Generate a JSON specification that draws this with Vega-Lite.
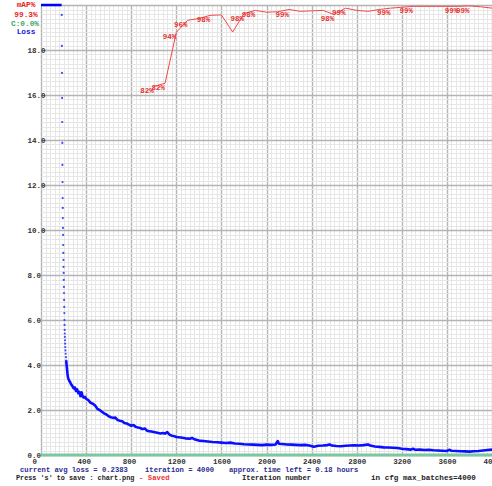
{
  "$schema": "https://vega.github.io/schema/vega-lite/v6.json",
  "autosize": {"type": "none"},
  "padding": {"left": 41, "top": 5, "right": 0, "bottom": 31},
  "width": 451,
  "height": 450,
  "background": "white",
  "config": {"view": {"stroke": null}},
  "datasets": {
    "lossTop": [{"iteration": 0, "loss": 20}, {"iteration": 183, "loss": 20}],
    "lossDots": [
      {"iteration": 184, "loss": 19.56}, {"iteration": 185, "loss": 18.18}, {"iteration": 186, "loss": 16.98},
      {"iteration": 187, "loss": 15.87}, {"iteration": 188, "loss": 14.8}, {"iteration": 189, "loss": 13.87},
      {"iteration": 190, "loss": 12.89}, {"iteration": 191, "loss": 12.13}, {"iteration": 192, "loss": 11.42},
      {"iteration": 193, "loss": 10.98}, {"iteration": 194, "loss": 10.53}, {"iteration": 195, "loss": 10.09},
      {"iteration": 196, "loss": 9.78}, {"iteration": 197, "loss": 9.33}, {"iteration": 198, "loss": 8.98},
      {"iteration": 199, "loss": 8.67}, {"iteration": 200, "loss": 8.36}, {"iteration": 201, "loss": 8.09},
      {"iteration": 202, "loss": 7.78}, {"iteration": 203, "loss": 7.47}, {"iteration": 204, "loss": 7.2},
      {"iteration": 205, "loss": 6.89}, {"iteration": 206, "loss": 6.58}, {"iteration": 207, "loss": 6.31},
      {"iteration": 208, "loss": 6.0}, {"iteration": 209, "loss": 5.78}, {"iteration": 210, "loss": 5.56},
      {"iteration": 211, "loss": 5.4}, {"iteration": 212, "loss": 5.25}, {"iteration": 213, "loss": 5.1},
      {"iteration": 214, "loss": 4.95}, {"iteration": 215, "loss": 4.8}, {"iteration": 217, "loss": 4.65},
      {"iteration": 219, "loss": 4.5}, {"iteration": 221, "loss": 4.35}, {"iteration": 223, "loss": 4.2}
    ],
    "loss": [
      {"iteration": 223, "loss": 4.2}, {"iteration": 226, "loss": 4.05},
      {"iteration": 230, "loss": 3.85}, {"iteration": 235, "loss": 3.6}, {"iteration": 240, "loss": 3.42},
      {"iteration": 250, "loss": 3.3}, {"iteration": 260, "loss": 3.22}, {"iteration": 270, "loss": 3.12},
      {"iteration": 280, "loss": 3.05}, {"iteration": 290, "loss": 2.96}, {"iteration": 300, "loss": 3.0},
      {"iteration": 310, "loss": 2.85}, {"iteration": 320, "loss": 2.92}, {"iteration": 330, "loss": 2.75},
      {"iteration": 340, "loss": 2.8}, {"iteration": 350, "loss": 2.62}, {"iteration": 360, "loss": 2.78},
      {"iteration": 370, "loss": 2.6}, {"iteration": 380, "loss": 2.55}, {"iteration": 390, "loss": 2.58},
      {"iteration": 400, "loss": 2.5}, {"iteration": 420, "loss": 2.44}, {"iteration": 440, "loss": 2.32},
      {"iteration": 460, "loss": 2.28}, {"iteration": 480, "loss": 2.2}, {"iteration": 500, "loss": 2.05},
      {"iteration": 520, "loss": 2.0}, {"iteration": 540, "loss": 1.92}, {"iteration": 560, "loss": 1.85},
      {"iteration": 580, "loss": 1.8}, {"iteration": 600, "loss": 1.72}, {"iteration": 620, "loss": 1.68},
      {"iteration": 640, "loss": 1.65}, {"iteration": 660, "loss": 1.66}, {"iteration": 680, "loss": 1.55},
      {"iteration": 700, "loss": 1.52}, {"iteration": 720, "loss": 1.5}, {"iteration": 740, "loss": 1.42},
      {"iteration": 760, "loss": 1.4}, {"iteration": 780, "loss": 1.35}, {"iteration": 800, "loss": 1.3},
      {"iteration": 820, "loss": 1.33}, {"iteration": 840, "loss": 1.25}, {"iteration": 860, "loss": 1.22},
      {"iteration": 880, "loss": 1.2}, {"iteration": 900, "loss": 1.15}, {"iteration": 920, "loss": 1.18},
      {"iteration": 940, "loss": 1.08}, {"iteration": 960, "loss": 1.06}, {"iteration": 980, "loss": 1.04},
      {"iteration": 1000, "loss": 1.02}, {"iteration": 1020, "loss": 1.0}, {"iteration": 1040, "loss": 0.98},
      {"iteration": 1060, "loss": 0.96}, {"iteration": 1080, "loss": 0.98}, {"iteration": 1100, "loss": 0.95},
      {"iteration": 1120, "loss": 1.02}, {"iteration": 1140, "loss": 0.9}, {"iteration": 1160, "loss": 0.86},
      {"iteration": 1180, "loss": 0.84}, {"iteration": 1200, "loss": 0.8}, {"iteration": 1240, "loss": 0.78},
      {"iteration": 1280, "loss": 0.74}, {"iteration": 1320, "loss": 0.72}, {"iteration": 1340, "loss": 0.76},
      {"iteration": 1360, "loss": 0.7}, {"iteration": 1400, "loss": 0.64}, {"iteration": 1440, "loss": 0.62},
      {"iteration": 1480, "loss": 0.6}, {"iteration": 1520, "loss": 0.58}, {"iteration": 1560, "loss": 0.57},
      {"iteration": 1600, "loss": 0.55}, {"iteration": 1640, "loss": 0.53}, {"iteration": 1680, "loss": 0.55},
      {"iteration": 1720, "loss": 0.51}, {"iteration": 1760, "loss": 0.5}, {"iteration": 1800, "loss": 0.48},
      {"iteration": 1840, "loss": 0.47}, {"iteration": 1880, "loss": 0.46}, {"iteration": 1920, "loss": 0.45},
      {"iteration": 1960, "loss": 0.44}, {"iteration": 2000, "loss": 0.46}, {"iteration": 2040, "loss": 0.45},
      {"iteration": 2080, "loss": 0.47}, {"iteration": 2100, "loss": 0.62}, {"iteration": 2110, "loss": 0.5},
      {"iteration": 2140, "loss": 0.49}, {"iteration": 2180, "loss": 0.47}, {"iteration": 2220, "loss": 0.46},
      {"iteration": 2260, "loss": 0.45}, {"iteration": 2300, "loss": 0.44}, {"iteration": 2340, "loss": 0.45},
      {"iteration": 2380, "loss": 0.42}, {"iteration": 2420, "loss": 0.37}, {"iteration": 2460, "loss": 0.41},
      {"iteration": 2500, "loss": 0.42}, {"iteration": 2540, "loss": 0.44}, {"iteration": 2560, "loss": 0.47},
      {"iteration": 2580, "loss": 0.42}, {"iteration": 2620, "loss": 0.4}, {"iteration": 2660, "loss": 0.39},
      {"iteration": 2700, "loss": 0.41}, {"iteration": 2740, "loss": 0.42}, {"iteration": 2780, "loss": 0.43},
      {"iteration": 2820, "loss": 0.42}, {"iteration": 2860, "loss": 0.44}, {"iteration": 2900, "loss": 0.47},
      {"iteration": 2920, "loss": 0.42}, {"iteration": 2960, "loss": 0.38}, {"iteration": 3000, "loss": 0.36},
      {"iteration": 3040, "loss": 0.34}, {"iteration": 3080, "loss": 0.33}, {"iteration": 3120, "loss": 0.32},
      {"iteration": 3160, "loss": 0.31}, {"iteration": 3200, "loss": 0.28}, {"iteration": 3240, "loss": 0.26},
      {"iteration": 3280, "loss": 0.24}, {"iteration": 3300, "loss": 0.28}, {"iteration": 3320, "loss": 0.23},
      {"iteration": 3360, "loss": 0.24}, {"iteration": 3400, "loss": 0.22}, {"iteration": 3440, "loss": 0.23},
      {"iteration": 3480, "loss": 0.21}, {"iteration": 3520, "loss": 0.2}, {"iteration": 3560, "loss": 0.19},
      {"iteration": 3600, "loss": 0.18}, {"iteration": 3620, "loss": 0.23}, {"iteration": 3640, "loss": 0.19},
      {"iteration": 3680, "loss": 0.18}, {"iteration": 3720, "loss": 0.17}, {"iteration": 3760, "loss": 0.16},
      {"iteration": 3800, "loss": 0.15}, {"iteration": 3840, "loss": 0.17}, {"iteration": 3880, "loss": 0.18},
      {"iteration": 3920, "loss": 0.2}, {"iteration": 3960, "loss": 0.22}, {"iteration": 4000, "loss": 0.24}
    ],
    "map": [
      {"iteration": 1000, "mAP": 81.9}, {"iteration": 1100, "mAP": 82.6}, {"iteration": 1200, "mAP": 93.9},
      {"iteration": 1300, "mAP": 96.6}, {"iteration": 1400, "mAP": 97.0}, {"iteration": 1500, "mAP": 97.7},
      {"iteration": 1600, "mAP": 97.8}, {"iteration": 1700, "mAP": 94.0}, {"iteration": 1800, "mAP": 98.1},
      {"iteration": 1900, "mAP": 98.8}, {"iteration": 2000, "mAP": 98.4}, {"iteration": 2100, "mAP": 98.5},
      {"iteration": 2200, "mAP": 99.0}, {"iteration": 2300, "mAP": 98.6}, {"iteration": 2400, "mAP": 98.7},
      {"iteration": 2500, "mAP": 98.8}, {"iteration": 2600, "mAP": 97.9}, {"iteration": 2700, "mAP": 99.3},
      {"iteration": 2800, "mAP": 98.8}, {"iteration": 2900, "mAP": 98.6}, {"iteration": 3000, "mAP": 99.0},
      {"iteration": 3100, "mAP": 99.3}, {"iteration": 3200, "mAP": 99.5}, {"iteration": 3300, "mAP": 99.7},
      {"iteration": 3400, "mAP": 99.7}, {"iteration": 3500, "mAP": 99.7}, {"iteration": 3600, "mAP": 99.7},
      {"iteration": 3700, "mAP": 99.7}, {"iteration": 3800, "mAP": 99.8}, {"iteration": 3900, "mAP": 99.6},
      {"iteration": 4000, "mAP": 99.3}
    ],
    "mapLabels": [
      {"iteration": 1000, "mAP": 81.9, "label": "82%"}, {"iteration": 1100, "mAP": 82.6, "label": "82%"},
      {"iteration": 1200, "mAP": 93.9, "label": "94%"}, {"iteration": 1300, "mAP": 96.6, "label": "96%"},
      {"iteration": 1500, "mAP": 97.7, "label": "98%"}, {"iteration": 1800, "mAP": 98.1, "label": "98%"},
      {"iteration": 1900, "mAP": 98.8, "label": "98%"}, {"iteration": 2200, "mAP": 99.0, "label": "99%"},
      {"iteration": 2600, "mAP": 97.9, "label": "98%"}, {"iteration": 2700, "mAP": 99.3, "label": "99%"},
      {"iteration": 3100, "mAP": 99.3, "label": "99%"}, {"iteration": 3300, "mAP": 99.7, "label": "99%"},
      {"iteration": 3700, "mAP": 99.7, "label": "99%"}, {"iteration": 3800, "mAP": 99.8, "label": "99%"}
    ],
    "acc": [{"iteration": 0, "C": 0}, {"iteration": 4000, "C": 0}]
  },
  "encoding": {
    "x": {
      "field": "iteration", "type": "quantitative",
      "scale": {"domain": [0, 4000], "nice": false, "zero": false},
      "axis": {
        "title": null,
        "values": [0,40,80,120,160,200,240,280,320,360,400,440,480,520,560,600,640,680,720,760,800,840,880,920,960,1000,1040,1080,1120,1160,1200,1240,1280,1320,1360,1400,1440,1480,1520,1560,1600,1640,1680,1720,1760,1800,1840,1880,1920,1960,2000,2040,2080,2120,2160,2200,2240,2280,2320,2360,2400,2440,2480,2520,2560,2600,2640,2680,2720,2760,2800,2840,2880,2920,2960,3000,3040,3080,3120,3160,3200,3240,3280,3320,3360,3400,3440,3480,3520,3560,3600,3640,3680,3720,3760,3800,3840,3880,3920,3960,4000],
        "grid": true,
        "gridColor": {"condition": {"test": "datum.value % 400 === 0", "value": "#b4b4b4"}, "value": "#e6e6e6"},
        "gridWidth": {"condition": {"test": "datum.value % 400 === 0", "value": 1.4}, "value": 1},
        "labelExpr": "datum.value % 400 === 0 ? datum.label : ''",
        "format": "d",
        "ticks": false, "tickSize": 0, "domain": false,
        "labelAlign": "left", "labelOffset": -9, "labelPadding": 2, "labelBaseline": "top",
        "labelFont": "Liberation Mono", "labelFontWeight": "bold", "labelFontSize": 7.5, "labelColor": "#333333",
        "labelFlush": false, "labelOverlap": false, "labelBound": false
      }
    }
  },
  "layer": [
    {
      "data": {"name": "lossTop"},
      "mark": {"type": "line", "color": "#0000ff", "strokeWidth": 2.5},
      "encoding": {
        "y": {
          "field": "loss", "type": "quantitative",
          "scale": {"domain": [0, 20], "nice": false, "zero": true},
          "axis": {
            "title": null,
            "values": [0,0.2,0.4,0.6,0.8,1,1.2,1.4,1.6,1.8,2,2.2,2.4,2.6,2.8,3,3.2,3.4,3.6,3.8,4,4.2,4.4,4.6,4.8,5,5.2,5.4,5.6,5.8,6,6.2,6.4,6.6,6.8,7,7.2,7.4,7.6,7.8,8,8.2,8.4,8.6,8.8,9,9.2,9.4,9.6,9.8,10,10.2,10.4,10.6,10.8,11,11.2,11.4,11.6,11.8,12,12.2,12.4,12.6,12.8,13,13.2,13.4,13.6,13.8,14,14.2,14.4,14.6,14.8,15,15.2,15.4,15.6,15.8,16,16.2,16.4,16.6,16.8,17,17.2,17.4,17.6,17.8,18,18.2,18.4,18.6,18.8,19,19.2,19.4,19.6,19.8,20],
            "grid": true,
            "gridColor": {"condition": {"test": "abs(datum.value/2 - round(datum.value/2)) < 0.001", "value": "#b4b4b4"}, "value": "#e6e6e6"},
            "gridWidth": {"condition": {"test": "abs(datum.value/2 - round(datum.value/2)) < 0.001", "value": 1.4}, "value": 1},
            "labelExpr": "(abs(datum.value/2 - round(datum.value/2)) < 0.001 && datum.value < 19) ? format(datum.value, '.1f') : ''",
            "ticks": false, "tickSize": 0, "domain": false,
            "labelAlign": "left", "labelPadding": 14, "labelBaseline": "middle",
            "labelFont": "Liberation Mono", "labelFontWeight": "bold", "labelFontSize": 7.5, "labelColor": "#333333",
            "labelFlush": false, "labelOverlap": false, "labelBound": false
          }
        }
      }
    },
    {
      "data": {"name": "acc"},
      "mark": {"type": "line", "color": "#7cc8a0", "strokeWidth": 3},
      "encoding": {
        "y": {"field": "C", "type": "quantitative", "scale": {"domain": [0, 100], "nice": false}, "axis": null}
      }
    },
    {
      "data": {"name": "lossDots"},
      "mark": {"type": "point", "filled": true, "shape": "circle", "size": 5, "color": "#2030ff", "opacity": 0.85},
      "encoding": {
        "y": {"field": "loss", "type": "quantitative", "scale": {"domain": [0, 20], "nice": false}, "axis": null}
      }
    },
    {
      "data": {"name": "loss"},
      "mark": {"type": "line", "color": "#0a10ff", "strokeWidth": 2.6, "strokeJoin": "round"},
      "encoding": {
        "y": {"field": "loss", "type": "quantitative", "scale": {"domain": [0, 20], "nice": false}, "axis": null}
      }
    },
    {
      "data": {"name": "map"},
      "mark": {"type": "line", "color": "#f04848", "strokeWidth": 1},
      "encoding": {
        "y": {"field": "mAP", "type": "quantitative", "scale": {"domain": [0, 100], "nice": false}, "axis": null}
      }
    },
    {
      "data": {"name": "mapLabels"},
      "mark": {"type": "text", "align": "left", "baseline": "middle", "dx": -13.5, "dy": 5, "font": "Liberation Mono", "fontWeight": "bold", "fontSize": 7.5, "color": "#e83030"},
      "encoding": {
        "y": {"field": "mAP", "type": "quantitative", "scale": {"domain": [0, 100], "nice": false}, "axis": null},
        "text": {"field": "label"}
      }
    },
    {
      "data": {"values": [{"label": "mAP%", "iteration": 0, "loss": 20}]},
      "mark": {"type": "text", "align": "center", "baseline": "middle", "dx": -15, "dy": 0, "font": "Liberation Mono", "fontWeight": "bold", "fontSize": 7.8, "color": "#e82020"},
      "encoding": {
        "y": {"field": "loss", "type": "quantitative", "scale": {"domain": [0, 20], "nice": false}, "axis": null},
        "text": {"field": "label"}
      }
    },
    {
      "data": {"values": [{"label": "99.3%", "iteration": 0, "loss": 20}]},
      "mark": {"type": "text", "align": "center", "baseline": "middle", "dx": -15, "dy": 10, "font": "Liberation Mono", "fontWeight": "bold", "fontSize": 7.8, "color": "#e82020"},
      "encoding": {
        "y": {"field": "loss", "type": "quantitative", "scale": {"domain": [0, 20], "nice": false}, "axis": null},
        "text": {"field": "label"}
      }
    },
    {
      "data": {"values": [{"label": "C:0.0%", "iteration": 0, "loss": 20}]},
      "mark": {"type": "text", "align": "center", "baseline": "middle", "dx": -16, "dy": 19, "font": "Liberation Mono", "fontWeight": "bold", "fontSize": 7.8, "color": "#3aa868"},
      "encoding": {
        "y": {"field": "loss", "type": "quantitative", "scale": {"domain": [0, 20], "nice": false}, "axis": null},
        "text": {"field": "label"}
      }
    },
    {
      "data": {"values": [{"label": "Loss", "iteration": 0, "loss": 20}]},
      "mark": {"type": "text", "align": "center", "baseline": "middle", "dx": -15, "dy": 27, "font": "Liberation Mono", "fontWeight": "bold", "fontSize": 7.8, "color": "#2020e0"},
      "encoding": {
        "y": {"field": "loss", "type": "quantitative", "scale": {"domain": [0, 20], "nice": false}, "axis": null},
        "text": {"field": "label"}
      }
    },
    {
      "data": {"values": [{"label": "current avg loss = 0.2383", "iteration": 0, "loss": 0}]},
      "mark": {"type": "text", "align": "left", "baseline": "middle", "dx": -21, "dy": 15, "font": "Liberation Mono", "fontWeight": "bold", "fontSize": 7.2, "color": "#2c2c90"},
      "encoding": {
        "y": {"field": "loss", "type": "quantitative", "scale": {"domain": [0, 20], "nice": false}, "axis": null},
        "text": {"field": "label"}
      }
    },
    {
      "data": {"values": [{"label": "iteration = 4000", "iteration": 0, "loss": 0}]},
      "mark": {"type": "text", "align": "left", "baseline": "middle", "dx": 104, "dy": 15, "font": "Liberation Mono", "fontWeight": "bold", "fontSize": 7.2, "color": "#2c2c90"},
      "encoding": {
        "y": {"field": "loss", "type": "quantitative", "scale": {"domain": [0, 20], "nice": false}, "axis": null},
        "text": {"field": "label"}
      }
    },
    {
      "data": {"values": [{"label": "approx. time left = 0.18 hours", "iteration": 0, "loss": 0}]},
      "mark": {"type": "text", "align": "left", "baseline": "middle", "dx": 188, "dy": 15, "font": "Liberation Mono", "fontWeight": "bold", "fontSize": 7.2, "color": "#2c2c90"},
      "encoding": {
        "y": {"field": "loss", "type": "quantitative", "scale": {"domain": [0, 20], "nice": false}, "axis": null},
        "text": {"field": "label"}
      }
    },
    {
      "data": {"values": [{"label": "Press 's' to save : chart.png", "iteration": 0, "loss": 0}]},
      "mark": {"type": "text", "align": "left", "baseline": "middle", "dx": -25, "dy": 23, "font": "Liberation Mono", "fontWeight": "bold", "fontSize": 6.8, "color": "#222222"},
      "encoding": {
        "y": {"field": "loss", "type": "quantitative", "scale": {"domain": [0, 20], "nice": false}, "axis": null},
        "text": {"field": "label"}
      }
    },
    {
      "data": {"values": [{"label": "- Saved", "iteration": 0, "loss": 0}]},
      "mark": {"type": "text", "align": "left", "baseline": "middle", "dx": 98, "dy": 23, "font": "Liberation Mono", "fontWeight": "bold", "fontSize": 7.3, "color": "#f03030"},
      "encoding": {
        "y": {"field": "loss", "type": "quantitative", "scale": {"domain": [0, 20], "nice": false}, "axis": null},
        "text": {"field": "label"}
      }
    },
    {
      "data": {"values": [{"label": "Iteration number", "iteration": 0, "loss": 0}]},
      "mark": {"type": "text", "align": "left", "baseline": "middle", "dx": 201, "dy": 23, "font": "Liberation Mono", "fontWeight": "bold", "fontSize": 7.2, "color": "#222222"},
      "encoding": {
        "y": {"field": "loss", "type": "quantitative", "scale": {"domain": [0, 20], "nice": false}, "axis": null},
        "text": {"field": "label"}
      }
    },
    {
      "data": {"values": [{"label": "in cfg max_batches=4000", "iteration": 0, "loss": 0}]},
      "mark": {"type": "text", "align": "left", "baseline": "middle", "dx": 330, "dy": 23, "font": "Liberation Mono", "fontWeight": "bold", "fontSize": 7.6, "color": "#222222"},
      "encoding": {
        "y": {"field": "loss", "type": "quantitative", "scale": {"domain": [0, 20], "nice": false}, "axis": null},
        "text": {"field": "label"}
      }
    }
  ],
  "resolve": {"scale": {"y": "independent"}, "axis": {"y": "independent"}}
}
